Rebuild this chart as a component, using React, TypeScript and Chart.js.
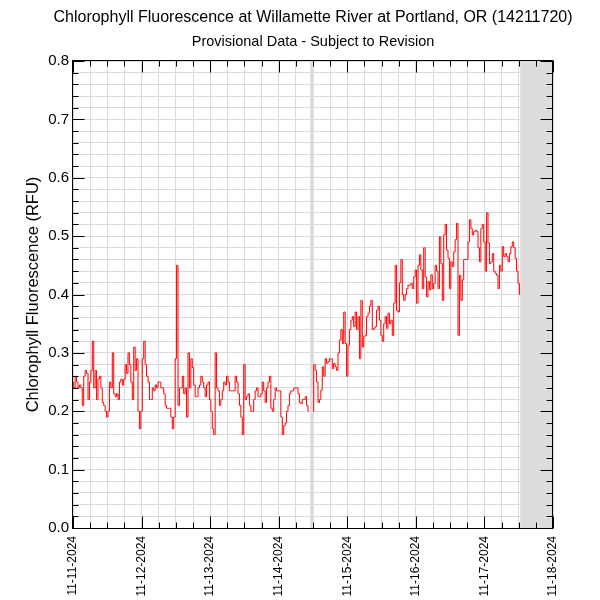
import React, { useEffect, useRef } from 'react';
import { Chart, registerables } from 'chart.js';

Chart.register(...registerables);

const FONT = '"Liberation Sans", Arial, Helvetica, sans-serif';

const titleText = 'Chlorophyll Fluorescence at Willamette River at Portland, OR (14211720)';
const subtitleText = 'Provisional Data - Subject to Revision';
const yAxisTitle = 'Chlorophyll Fluorescence (RFU)';

// day tick labels (one per day, starting 11-11-2024 00:00)
const dateLabels = [
  '11-11-2024', '11-12-2024', '11-13-2024', '11-14-2024',
  '11-15-2024', '11-16-2024', '11-17-2024', '11-18-2024',
];

// sampling interval of the series, hours
const stepHours = 0.5;

// chlorophyll fluorescence, RFU (null = missing)
const chlorophyll: (number | null)[] = [
  // 11-11
  0.25, 0.24, 0.26, 0.25, 0.24, 0.245, 0.24, 0.21, 0.26, 0.27, 0.265, 0.22,
  0.25, 0.27, 0.32, 0.24, 0.27, 0.22, 0.255, 0.26, 0.24, 0.215, 0.21, 0.2,
  0.19, 0.2, 0.25, 0.24, 0.3, 0.23, 0.225, 0.23, 0.22, 0.25, 0.255, 0.245,
  0.255, 0.28, 0.265, 0.3, 0.28, 0.25, 0.22, 0.31, 0.27, 0.29, 0.2, 0.17,
  // 11-12
  0.2, 0.29, 0.32, 0.28, 0.26, 0.25, 0.22, 0.22, 0.24, 0.235, 0.245, 0.24,
  0.25, 0.25, 0.24, 0.24, 0.23, 0.21, 0.205, 0.205, 0.205, 0.19, 0.17, 0.19,
  0.29, 0.45, 0.21, 0.24, 0.24, 0.26, 0.23, 0.24, 0.19, 0.3, 0.24, 0.29,
  0.275, 0.245, 0.225, 0.225, 0.24, 0.245, 0.26, 0.25, 0.24, 0.225, 0.245, 0.25,
  // 11-13
  0.22, 0.2, 0.17, 0.16, 0.3, 0.24, 0.235, 0.21, 0.22, 0.235, 0.25, 0.245,
  0.26, 0.25, 0.235, 0.235, 0.235, 0.235, 0.26, 0.25, 0.23, 0.21, 0.19, 0.16,
  0.28, 0.22, 0.225, 0.23, 0.21, 0.2, 0.2, 0.22, 0.235, 0.24, 0.225, 0.225,
  0.23, 0.25, 0.235, 0.215, 0.24, 0.25, 0.26, 0.205, 0.2, 0.22, 0.24, 0.235,
  // 11-14
  0.235, 0.235, 0.19, 0.16, 0.175, 0.18, 0.2, 0.21, 0.23, 0.235, 0.235, 0.24,
  0.24, 0.24, 0.23, 0.215, 0.213, 0.22, 0.22, 0.225, 0.21, 0.2, null, null,
  0.2, 0.28, 0.27, 0.25, 0.215, 0.22, 0.236, 0.276, 0.26, 0.29, 0.282, 0.285,
  0.29, 0.29, 0.273, 0.282, 0.276, 0.27, 0.3, 0.322, 0.34, 0.316, 0.37, 0.316,
  // 11-15
  0.26, 0.313, 0.34, 0.356, 0.362, 0.345, 0.37, 0.34, 0.362, 0.29, 0.39, 0.31,
  0.328, 0.33, 0.362, 0.368, 0.38, 0.39, 0.34, 0.342, 0.345, 0.373, 0.38, 0.356,
  0.33, 0.32, 0.35, 0.362, 0.342, 0.368, 0.35, 0.356, 0.33, 0.385, 0.45, 0.373,
  0.37, 0.42, 0.46, 0.4, 0.39, 0.4, 0.41, 0.416, 0.416, 0.419, 0.41, 0.43,
  // 11-16
  0.442, 0.385, 0.45, 0.468, 0.442, 0.41, 0.48, 0.43, 0.396, 0.422, 0.408, 0.434,
  0.41, 0.419, 0.45, 0.44, 0.41, 0.499, 0.453, 0.39, 0.502, 0.52, 0.476, 0.462,
  0.41, 0.456, 0.448, 0.473, 0.494, 0.522, 0.33, 0.433, 0.39, 0.425, 0.46, 0.46,
  0.46, 0.49, 0.528, 0.513, 0.502, 0.508, 0.51, 0.508, 0.48, 0.456, 0.513, 0.52,
  // 11-17
  0.49, 0.44, 0.54, 0.488, 0.453, 0.456, 0.47, 0.44, 0.436, 0.433, 0.41, 0.45,
  0.44, 0.482, 0.465, 0.47, 0.465, 0.456, 0.47, 0.482, 0.49, 0.48, 0.462, 0.44,
  0.419, 0.4,
];

// periods without data (hours since 11-11-2024 00:00), shaded grey
const noDataStartHours = [83.0, 156.5];
const noDataEndHours = [84.3, 168];

const xMaxHours = 168;
const xTickStepHours = 6;
const yMin = 0;
const yMax = 0.8;
const yTickStep = 0.02;

const isMajorY = (v: number) => Math.abs(v * 10 - Math.round(v * 10)) < 1e-6;
const isMajorX = (v: number) => Math.abs(v % 24) < 1e-6;

const GRID = 'rgb(218,218,218)';
const BAND = 'rgb(220,220,220)';

const bandsPlugin = {
  id: 'noDataBands',
  beforeDatasetsDraw(chart: any) {
    const { ctx, chartArea: a, scales } = chart;
    const x = scales.x;
    ctx.save();
    ctx.fillStyle = BAND;
    noDataStartHours.forEach((s, i) => {
      const x0 = x.getPixelForValue(s);
      const x1 = x.getPixelForValue(noDataEndHours[i]);
      ctx.fillRect(x0, a.top, x1 - x0, a.bottom - a.top);
    });
    ctx.restore();
  },
};

const framePlugin = {
  id: 'frameTicks',
  afterDatasetsDraw(chart: any) {
    const { ctx, chartArea: a, scales } = chart;
    const x = scales.x;
    const y = scales.y;
    const L = Math.round(a.left) - 0.5;
    const R = Math.round(a.right) - 0.5;
    const T = Math.round(a.top) - 0.5;
    const B = Math.round(a.bottom) + 0.5;
    ctx.save();
    ctx.strokeStyle = '#000';
    ctx.lineWidth = 1;
    ctx.beginPath();
    x.ticks.forEach((t: any) => {
      const px = Math.round(x.getPixelForValue(t.value)) + 0.5;
      const len = isMajorX(t.value) ? 12 : 6;
      ctx.moveTo(px, T);
      ctx.lineTo(px, T + len);
      ctx.moveTo(px, B);
      ctx.lineTo(px, B - len);
    });
    y.ticks.forEach((t: any) => {
      const py = Math.round(y.getPixelForValue(t.value)) + 0.5;
      const len = isMajorY(t.value) ? 12 : 6;
      ctx.moveTo(L, py);
      ctx.lineTo(L + len, py);
      ctx.moveTo(R, py);
      ctx.lineTo(R - len, py);
    });
    ctx.stroke();
    ctx.strokeRect(L, T, R - L, B - T);

    // title and subtitle, centred over the plot area
    const cx = (a.left + a.right) / 2;
    ctx.fillStyle = '#000';
    ctx.textAlign = 'center';
    ctx.textBaseline = 'middle';
    ctx.font = `16px ${FONT}`;
    ctx.fillText(titleText, cx, 17.5);
    ctx.font = `14.5px ${FONT}`;
    ctx.fillText(subtitleText, cx, 42);
    ctx.restore();
  },
};

export default function App() {
  const ref = useRef<HTMLCanvasElement | null>(null);

  useEffect(() => {
    if (!ref.current) return;
    const chart = new Chart(ref.current, {
      type: 'line',
      data: {
        datasets: [
          {
            data: chlorophyll.map((v, i) => ({ x: i * stepHours, y: v })) as any,
            borderColor: 'rgb(255,0,0)',
            borderWidth: 1,
            pointRadius: 0,
            fill: false,
            tension: 0,
            stepped: 'middle',
            spanGaps: false,
          },
        ],
      },
      options: {
        animation: false,
        responsive: false,
        layout: { padding: { left: 0, right: 47, top: 61, bottom: 0 } },
        plugins: {
          legend: { display: false },
          tooltip: { enabled: false },
          title: { display: false },
        },
        scales: {
          x: {
            type: 'linear',
            min: 0,
            max: xMaxHours,
            afterFit: (s: any) => {
              s.height = 72;
            },
            grid: { color: GRID, lineWidth: 1, drawTicks: false },
            border: { display: false },
            ticks: {
              stepSize: xTickStepHours,
              autoSkip: false,
              maxRotation: 90,
              minRotation: 90,
              padding: 8,
              color: '#000',
              font: { family: FONT, size: 12 },
              callback: (v: any) => (isMajorX(Number(v)) ? dateLabels[Math.round(Number(v) / 24)] : ''),
            },
          },
          y: {
            type: 'linear',
            min: yMin,
            max: yMax,
            afterFit: (s: any) => {
              s.width = 73;
            },
            grid: { color: GRID, lineWidth: 1, drawTicks: false },
            border: { display: false },
            ticks: {
              stepSize: yTickStep,
              autoSkip: false,
              padding: 4,
              color: '#000',
              font: { family: FONT, size: 15 },
              callback: (v: any) => (isMajorY(Number(v)) ? Number(v).toFixed(1) : ''),
            },
            title: {
              display: true,
              text: yAxisTitle,
              color: '#000',
              font: { family: FONT, size: 16.5, lineHeight: 1.2 },
              padding: { top: 23.1, bottom: 0 },
            },
          },
        },
      },
      plugins: [bandsPlugin, framePlugin],
    });
    return () => chart.destroy();
  }, []);

  return (
    <div style={{ position: 'fixed', left: 0, top: 0, width: 600, height: 600, background: '#fff' }}>
      <canvas ref={ref} width={600} height={600} />
    </div>
  );
}
